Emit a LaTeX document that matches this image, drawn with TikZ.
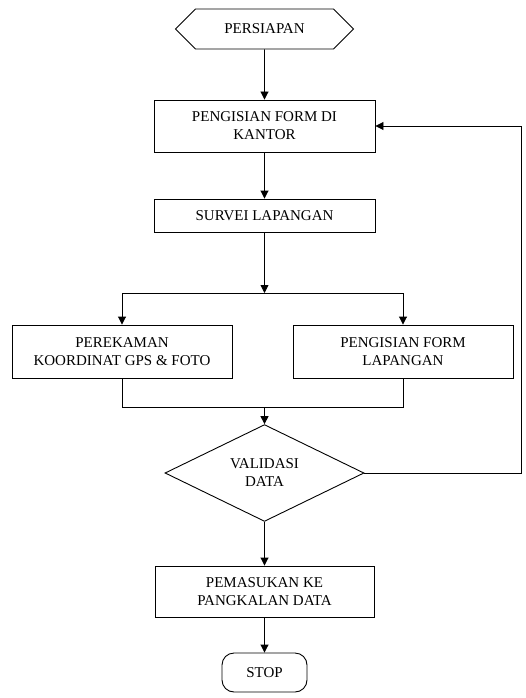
\documentclass[tikz,border=0pt]{standalone}
\usepackage{fontspec}
\setmainfont{Liberation Serif}
\usetikzlibrary{arrows.meta,shapes.geometric,shapes.symbols}
\begin{document}
\begin{tikzpicture}[x=1pt,y=-1pt,
  every node/.style={font=\fontsize{15}{18}\selectfont, align=center, inner sep=0pt},
  proc/.style={draw, rectangle, line width=0.9pt},
  hexa/.style={draw, signal, signal to=east and west, line width=0.9pt},
  decis/.style={draw, diamond, line width=0.9pt},
  term/.style={draw, rounded corners=12pt, line width=0.9pt},
  arr/.style={-{Triangle[width=8pt,length=8pt]}, line width=0.9pt},
  ln/.style={line width=0.9pt}]
\useasboundingbox (0,0) rectangle (525,698);
\fill[white] (0,0) rectangle (525,698);

\node[hexa, minimum width=178pt, minimum height=40pt] (prep) at (264.5,29) {PERSIAPAN};
\node[proc, minimum width=221pt, minimum height=52pt] (kantor) at (264.5,126) {PENGISIAN FORM DI\\KANTOR};
\node[proc, minimum width=221pt, minimum height=33pt] (survei) at (264.5,215.5) {SURVEI LAPANGAN};
\node[proc, minimum width=220pt, minimum height=53pt] (gps) at (122,351.5) {PEREKAMAN\\KOORDINAT GPS \& FOTO};
\node[proc, minimum width=220pt, minimum height=53pt] (lap) at (403,351.5) {PENGISIAN FORM\\LAPANGAN};
\node[decis, minimum width=199pt, minimum height=92pt] (valid) at (264.5,473) {VALIDASI\\DATA};
\node[proc, minimum width=219pt, minimum height=51pt] (db) at (264.5,591.5) {PEMASUKAN KE\\PANGKALAN DATA};
\node[term, minimum width=85pt, minimum height=39pt] (stop) at (264.5,672.5) {STOP};

\coordinate (split) at (264.5,293);
\coordinate (merge) at (264.5,407);
\coordinate (fb) at (521,473);

\draw[arr] (prep) -- (kantor);
\draw[arr] (kantor) -- (survei);
\draw[arr] (survei) -- (split);
\draw[arr] (split) -| (gps);
\draw[arr] (split) -| (lap);
\draw[ln] (gps) |- (merge);
\draw[ln] (lap) |- (merge);
\draw[arr] (merge) -- (valid);
\draw[arr] (valid) -- (db);
\draw[arr] (db) -- (stop);
\draw[arr] (valid.east) -- (fb) |- (kantor.east);
\end{tikzpicture}
\end{document}
